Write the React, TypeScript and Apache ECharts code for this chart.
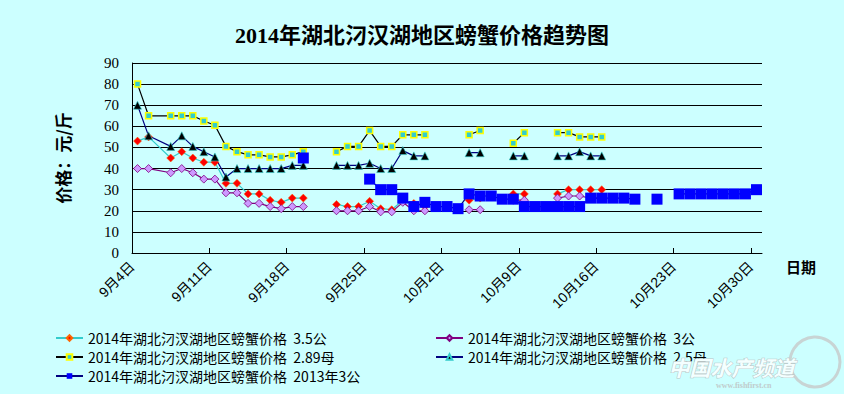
import React, { useEffect, useRef } from 'react';
import * as echarts from 'echarts';

// x positions: day index counted from 9月4日 (0) to 10月30日 (56)
const dayCount = 57;
const skippedDays = [2]; // no row for 9月6日 in the source table (lines connect across it)
const tickDays = [0, 7, 14, 21, 28, 35, 42, 49, 56];
const tickLabels = ['9月4日', '9月11日', '9月18日', '9月25日', '10月2日', '10月9日', '10月16日', '10月23日', '10月30日'];
const yTicks = [0, 10, 20, 30, 40, 50, 60, 70, 80, 90];

const seriesNames = [
  '2014年湖北汈汊湖地区螃蟹价格  3.5公',
  '2014年湖北汈汊湖地区螃蟹价格  3公',
  '2014年湖北汈汊湖地区螃蟹价格  2.89母',
  '2014年湖北汈汊湖地区螃蟹价格  2.5母',
  '2014年湖北汈汊湖地区螃蟹价格  2013年3公',
];

const price35M = [53, 55, null, 45, 48, 45, 43, 43, 33, 33, 28, 28, 25, 24, 26, 26, null, null, 23, 22, 22, 24.5, 21, 20.5, 25, 23.5, 22, null, null, null, 25, 26, null, null, 28, 28, null, null, 28, 30, 30, 30, 30];
const price3M = [40, 40, null, 38, 40, 38, 35, 35, 28.5, 28.5, 23.5, 23.5, 22, 21, 22, 22, null, null, 20, 20, 20, 22, 19.5, 19.5, 24, 20, 20, null, null, null, 20.5, 20.5, null, null, 25, 25, null, null, 26, 27, 27, 26, 26];
const price289F = [80, 65, null, 65, 65, 65, 62.5, 60.5, 50.5, 48, 46.5, 46.5, 45.5, 45.5, 46.5, 48, null, null, 48, 50.5, 50.5, 58, 50.5, 50.5, 56, 56, 56, null, null, null, 56, 58, null, null, 52, 57, null, null, 57, 57, 55, 55, 55];
const price25F = [70, 55.5, null, 50.5, 55.5, 50.5, 48, 45.5, 36, 40, 40, 40, 40, 40, 41.5, 41.5, null, null, 41.5, 41.5, 41.5, 42.5, 40, 40, 48.5, 46, 46, null, null, null, 47.5, 47.5, null, null, 46, 46, null, null, 46, 46, 48, 46, 46];
const price2013M = [null, null, null, null, null, null, null, null, null, null, null, null, null, null, null, 45, null, null, null, null, null, 35, 30, 30, 26, 22, 24, 22, 22, 21, 28, 27, 27, 25.5, 25.5, 22, 22, 22, 22, 22, 22, 26, 26, 26, 26, 25.5, null, 25.5, null, 28, 28, 28, 28, 28, 28, 28, 30];

const serif = "'Liberation Serif', 'Noto Sans CJK SC', serif";
const sans = "'Liberation Sans', 'Noto Sans CJK SC', sans-serif";
const cjk = "'Noto Sans CJK SC', sans-serif";

function buildData(values: (number | null)[]) {
  const out: any[] = [];
  for (let d = 0; d < dayCount; d++) {
    if (skippedDays.includes(d)) continue;
    const v = values[d];
    out.push([d + 0.5, v === null || v === undefined ? '-' : v]);
  }
  return out;
}

export default function App() {
  const ref = useRef<HTMLDivElement>(null);
  useEffect(() => {
    if (!ref.current) return;
    const chart = echarts.init(ref.current, null, { renderer: 'svg' });
    const lineSeries = (name: string, values: (number | null)[], lineColor: string, symbol: string, size: number, fill: string, border: string, borderWidth: number) => ({
      name,
      type: 'line',
      data: buildData(values),
      connectNulls: false,
      showSymbol: true,
      showAllSymbol: true,
      symbol,
      symbolSize: size,
      lineStyle: { color: lineColor, width: 1.2 },
      itemStyle: { color: fill, borderColor: border, borderWidth },
      emphasis: { disabled: true },
    });
    const legendText = { fontSize: 14, lineHeight: 14, fontFamily: cjk, color: '#000' };
    chart.setOption({
      animation: false,
      backgroundColor: '#CCFFFF',
      title: {
        text: '2014年湖北汈汉湖地区螃蟹价格趋势图',
        left: 'center',
        top: 19,
        textStyle: { fontSize: 22, fontWeight: 'bold', fontFamily: serif, color: '#000' },
      },
      grid: { left: 132, right: 82, top: 63, bottom: 141, containLabel: false, outerBoundsMode: 'none' },
      xAxis: {
        type: 'value',
        min: 0,
        max: dayCount,
        splitLine: { show: false },
        axisLine: { show: true, lineStyle: { color: '#000', width: 1 } },
        axisTick: { show: true, inside: true, length: 5, customValues: tickDays, lineStyle: { color: '#000' } },
        axisLabel: {
          customValues: tickDays,
          rotate: 45,
          margin: 11,
          fontSize: 14,
          fontFamily: sans,
          color: '#000',
          formatter: (v: number) => {
            const i = tickDays.indexOf(Math.round(v));
            return i >= 0 ? tickLabels[i] : '';
          },
        },
      },
      yAxis: {
        type: 'value',
        min: yTicks[0],
        max: yTicks[yTicks.length - 1],
        interval: 10,
        name: '价格：元/斤',
        nameLocation: 'middle',
        nameRotate: 90,
        nameGap: 61,
        nameTextStyle: { fontSize: 17, fontWeight: 'bold', fontFamily: cjk, color: '#000' },
        axisLine: { show: true, lineStyle: { color: '#000', width: 1 } },
        axisTick: { show: false },
        axisLabel: { fontSize: 15, fontFamily: serif, color: '#000', margin: 13 },
        splitLine: { show: true, lineStyle: { color: '#000', width: 1 } },
      },
      legend: [
        {
          left: 50,
          top: 326,
          orient: 'vertical',
          itemWidth: 27,
          itemHeight: 7,
          itemGap: 5,
          selectedMode: false,
          data: [seriesNames[0], seriesNames[2], seriesNames[4]],
          textStyle: legendText,
        },
        {
          left: 430,
          top: 326,
          orient: 'vertical',
          itemWidth: 27,
          itemHeight: 7,
          itemGap: 5,
          selectedMode: false,
          data: [seriesNames[1], seriesNames[3]],
          textStyle: legendText,
        },
      ],
      series: [
        lineSeries(seriesNames[0], price35M, '#33CCCC', 'diamond', 8, '#FF0000', '#FF6600', 0.5),
        lineSeries(seriesNames[1], price3M, '#800080', 'diamond', 8, '#CC99FF', '#800080', 0.8),
        lineSeries(seriesNames[2], price289F, '#000000', 'rect', 6, '#33CCCC', '#FFFF00', 1.5),
        lineSeries(seriesNames[3], price25F, '#000080', 'triangle', 8, '#000000', '#33CCCC', 0.6),
        lineSeries(seriesNames[4], price2013M, '#000080', 'rect', 11, '#0000FF', '#0000FF', 0),
      ],
      graphic: [
        {
          type: 'text',
          left: 786,
          top: 259,
          style: { text: '日期', fontSize: 15, fontWeight: 'bold', fontFamily: cjk, fill: '#000' },
        },
        {
          type: 'circle',
          shape: { cx: 815, cy: 362, r: 25 },
          style: { fill: 'none', stroke: '#C8D4D4', lineWidth: 3 },
          z: 100,
        },
        {
          type: 'text',
          left: 668,
          top: 356,
          z: 101,
          style: { text: '中国水产频道', fontSize: 21, fontWeight: 'bold', fontStyle: 'italic', fontFamily: cjk, fill: '#F4FFFF', stroke: '#B8C4C4', lineWidth: 1 },
        },
        {
          type: 'text',
          left: 716,
          top: 381,
          z: 101,
          style: { text: 'www.fishfirst.cn', fontSize: 8, fontWeight: 'bold', fontFamily: serif, fill: '#C0CCCC' },
        },
      ],
    });
    return () => chart.dispose();
  }, []);
  return <div ref={ref} style={{ position: 'fixed', left: 0, top: 0, width: 844, height: 394 }} />;
}
